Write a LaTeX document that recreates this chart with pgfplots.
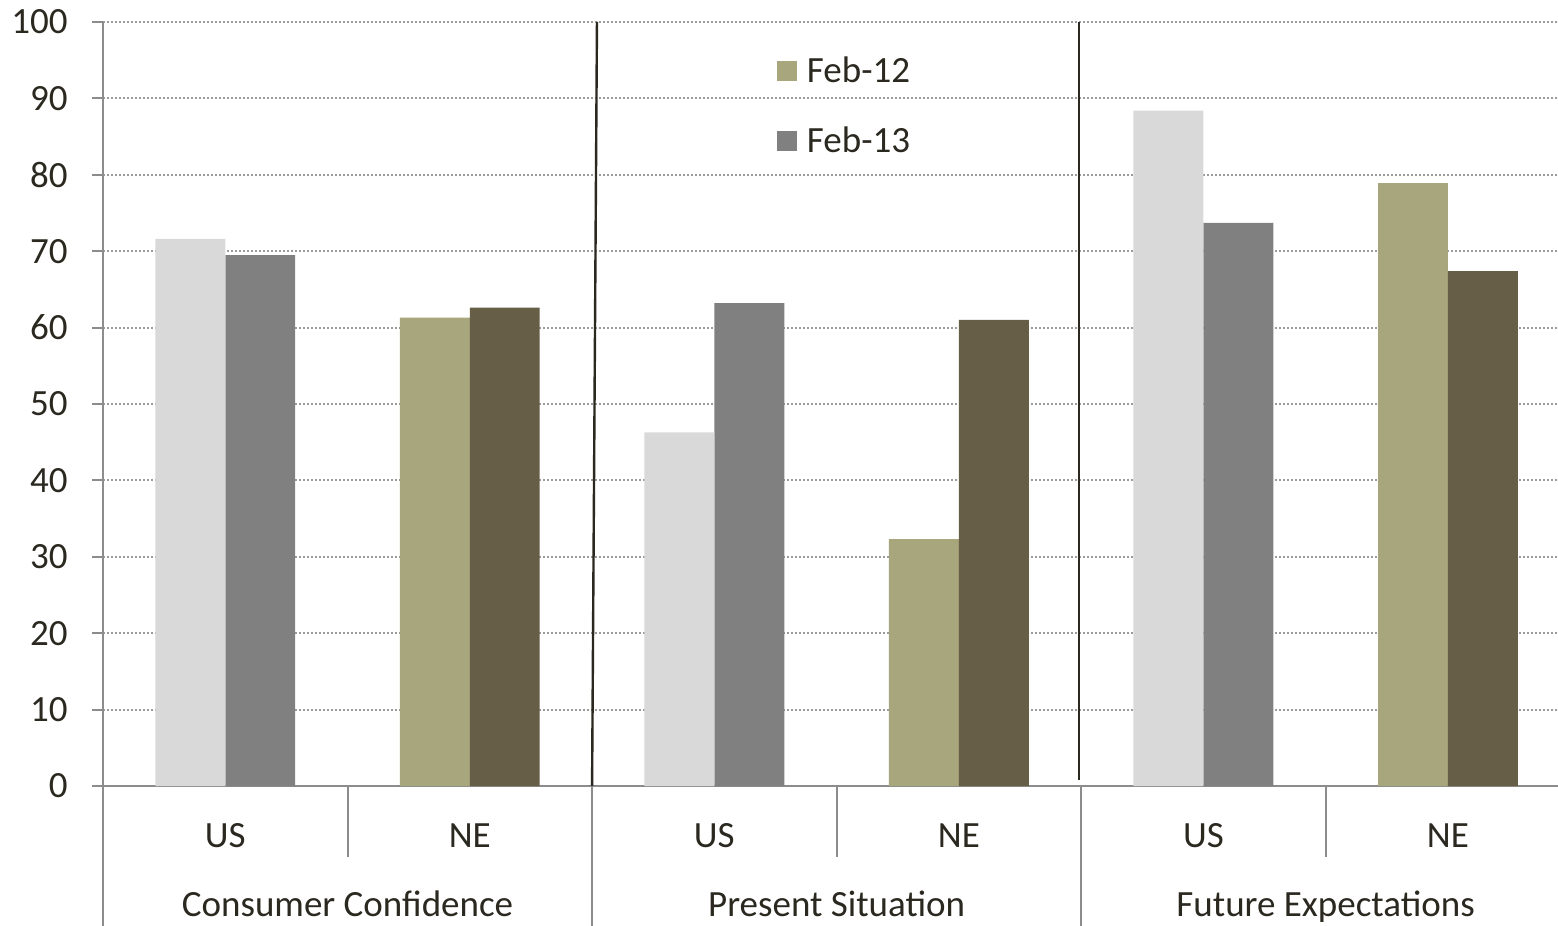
\documentclass[border=0pt]{standalone}
\usepackage{pgfplots}
\pgfplotsset{compat=1.18}
\usepackage{fontspec}
\setmainfont{Carlito}
\definecolor{usold}{HTML}{D9D9D9}
\definecolor{usnew}{HTML}{808080}
\definecolor{neold}{HTML}{A8A67C}
\definecolor{nenew}{HTML}{665E47}
\definecolor{txt}{HTML}{2B2820}
\definecolor{axgray}{HTML}{8C8C8C}
\definecolor{gridgray}{HTML}{9A9A9A}
\begin{document}
\begin{tikzpicture}
\useasboundingbox (0,0) rectangle (779pt,463pt);
\begin{axis}[
    at={(51.5pt,70pt)}, anchor=south west,
    scale only axis, width=727.5pt, height=382pt,
    xmin=-0.5, xmax=5.45, ymin=0, ymax=100,
    clip=false,
    ybar, bar width=0.286,
    axis lines*=left,
    axis line style={axgray, line width=1pt},
    ytick={0,10,...,100},
    xtick={0,...,5},
    xticklabels={US,NE,US,NE,US,NE},
    xtick style={draw=none},
    ytick style={axgray, line width=1pt},
    tick align=outside, major tick length=5.5pt,
    ymajorgrids,
    grid style={gridgray, line width=1pt, dash pattern=on 1pt off 1pt},
    /pgf/number format/assume math mode=true,
    font=\fontsize{18.5}{21}\selectfont\color{txt},
    yticklabel style={anchor=east, inner sep=0pt, xshift=-12pt},
    xticklabel style={anchor=base, inner sep=0pt, yshift=-25pt},
    legend image code/.code={\fill[#1,draw=none] (0pt,-5pt) rectangle (10pt,5pt);
        \path (13pt,0pt);},
    legend style={at={(axis cs:2.23,96.6)}, anchor=north west, draw=none, fill=none,
        row sep=17pt, font=\fontsize{18.5}{21}\selectfont\color{txt}},
    legend cell align=left,
]
\addplot[fill=neold, draw=none, bar shift=-0.143] coordinates {(1,61.3) (3,32.3) (5,78.9)};
\addlegendentry{Feb-12}
\addplot[fill=usnew, draw=none, bar shift=0.143] coordinates {(0,69.5) (2,63.2) (4,73.7)};
\addlegendentry{Feb-13}
\addplot[fill=usold, draw=none, bar shift=-0.143, forget plot] coordinates {(0,71.6) (2,46.3) (4,88.4)};
\addplot[fill=nenew, draw=none, bar shift=0.143, forget plot] coordinates {(1,62.6) (3,61.0) (5,67.4)};
% group separators inside the plot
\draw[txt, line width=1.2pt] (axis cs:1.52,100) -- (axis cs:1.5,0);
\draw[txt, line width=1.2pt] (axis cs:3.49,100) -- (axis cs:3.49,0.8);
% category dividers below the axis
\draw[axgray, line width=1pt] (axis cs:0.5,0) -- ++(0pt,-35.5pt);
\draw[axgray, line width=1pt] (axis cs:2.5,0) -- ++(0pt,-35.5pt);
\draw[axgray, line width=1pt] (axis cs:4.5,0) -- ++(0pt,-35.5pt);
\draw[axgray, line width=1pt] (axis cs:-0.5,0) -- ++(0pt,-72pt);
\draw[axgray, line width=1pt] (axis cs:1.5,0) -- ++(0pt,-72pt);
\draw[axgray, line width=1pt] (axis cs:3.5,0) -- ++(0pt,-72pt);
% group labels
\node[anchor=base, inner sep=0pt, yshift=-65pt] at (axis cs:0.5,0) {Consumer Confidence};
\node[anchor=base, inner sep=0pt, yshift=-65pt] at (axis cs:2.5,0) {Present Situation};
\node[anchor=base, inner sep=0pt, yshift=-65pt] at (axis cs:4.5,0) {Future Expectations};
\end{axis}
\end{tikzpicture}
\end{document}
